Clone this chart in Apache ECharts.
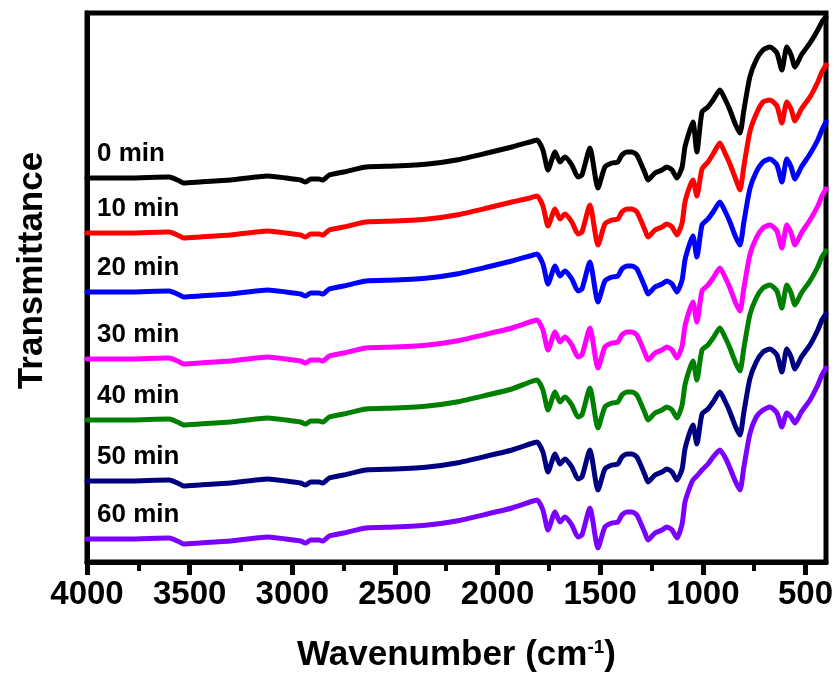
<!DOCTYPE html>
<html>
<head>
<meta charset="utf-8">
<script src="https://cdn.jsdelivr.net/npm/echarts@6/dist/echarts.min.js"></script>
<style>
  html, body { margin: 0; padding: 0; background: #fff; }
  #ftir { width: 836px; height: 680px; }
</style>
</head>
<body>
<div id="ftir"></div>
<script>
// wavenumbers (cm-1) shared by all spectra
var wavenumbers = [4000, 3800, 3600, 3550, 3530, 3450, 3300, 3120, 3030, 2960, 2935, 2910, 2870, 2850, 2820, 2750, 2640, 2500, 2340, 2200, 2050, 1930, 1842, 1808, 1779, 1754, 1720, 1696, 1672, 1638, 1608, 1589, 1550, 1511, 1477, 1443, 1414, 1394, 1370, 1345, 1321, 1282, 1267, 1233, 1199, 1175, 1150, 1126, 1101, 1087, 1063, 1048, 1029, 1004, 975, 950, 917, 890, 868, 840, 819, 800, 771, 740, 707, 673, 639, 615, 591, 570, 551, 520, 478, 440, 420, 400];

// transmittance (a.u., stacked with offsets as in the figure)
var t0 = [384, 384, 385, 381, 379, 380, 382, 386, 384, 382, 380, 383, 383, 382, 387, 390, 395, 396, 398, 402, 409, 415, 420, 422, 412, 392, 410, 400, 405, 397, 385, 387, 414, 374, 395, 399, 400, 407, 410, 410, 407, 389, 382, 389, 392, 395, 392, 384, 395, 415, 432, 440, 410, 450, 455, 462, 472, 462, 452, 437, 429, 452, 485, 502, 512, 515, 509, 492, 515, 507, 495, 507, 519, 532, 540, 545];
var t10 = [329, 329, 330, 326, 324, 325, 327, 331, 329, 327, 325, 328, 328, 327, 332, 335, 340, 341, 343, 347, 354, 360, 364, 366, 356, 336, 353, 343, 348, 340, 328, 330, 357, 317, 338, 342, 343, 350, 353, 353, 350, 332, 325, 332, 335, 338, 335, 327, 339, 360, 376, 382, 366, 393, 400, 408, 419, 408, 398, 383, 372, 396, 430, 448, 460, 462, 456, 439, 460, 453, 441, 453, 465, 480, 490, 497];
var t20 = [270, 270, 271, 267, 265, 266, 268, 272, 270, 268, 266, 269, 269, 268, 273, 276, 281, 282, 284, 288, 295, 301, 306, 308, 298, 278, 296, 286, 291, 283, 271, 273, 300, 260, 281, 285, 286, 293, 296, 296, 293, 275, 268, 275, 278, 281, 278, 270, 282, 302, 319, 326, 305, 337, 343, 350, 360, 350, 340, 325, 317, 340, 373, 390, 400, 403, 397, 380, 403, 395, 383, 395, 408, 422, 432, 440];
var t30 = [203, 203, 204, 200, 198, 199, 201, 205, 203, 201, 199, 202, 202, 201, 206, 209, 214, 215, 217, 221, 228, 234, 240, 242, 232, 212, 230, 220, 225, 217, 205, 207, 234, 194, 215, 219, 220, 227, 230, 230, 227, 209, 202, 209, 212, 215, 212, 204, 216, 236, 253, 260, 240, 271, 277, 284, 294, 284, 274, 259, 251, 274, 307, 324, 334, 337, 331, 314, 337, 329, 317, 329, 342, 356, 366, 373];
var t40 = [142, 142, 143, 139, 137, 138, 140, 144, 142, 140, 138, 141, 141, 140, 145, 148, 153, 154, 156, 160, 167, 173, 180, 182, 172, 152, 170, 160, 165, 157, 145, 147, 174, 134, 155, 159, 160, 167, 170, 170, 167, 149, 142, 149, 152, 155, 152, 144, 157, 177, 194, 201, 182, 212, 217, 224, 234, 224, 214, 199, 191, 214, 247, 264, 274, 277, 271, 254, 277, 269, 257, 269, 281, 295, 305, 311];
var t50 = [81, 81, 82, 78, 76, 77, 79, 83, 81, 79, 77, 80, 80, 79, 84, 87, 92, 93, 95, 99, 106, 112, 118, 120, 110, 90, 108, 98, 103, 95, 83, 85, 112, 72, 93, 97, 98, 105, 108, 108, 105, 87, 80, 87, 90, 93, 90, 82, 93, 113, 130, 137, 118, 148, 153, 160, 170, 160, 150, 135, 127, 150, 183, 200, 210, 213, 207, 190, 213, 205, 193, 205, 217, 232, 242, 248];
var t60 = [23, 23, 24, 20, 18, 19, 21, 25, 23, 21, 19, 22, 22, 21, 26, 29, 34, 35, 37, 41, 48, 54, 60, 62, 52, 32, 50, 40, 45, 37, 25, 27, 54, 14, 35, 39, 40, 47, 50, 50, 47, 29, 22, 29, 32, 35, 32, 24, 38, 60, 75, 82, 86, 92, 98, 105, 112, 104, 94, 80, 72, 95, 128, 145, 152, 155, 149, 135, 149, 145, 139, 150, 162, 177, 187, 194];

var seriesNames = ['0 min', '10 min', '20 min', '30 min', '40 min', '50 min', '60 min'];
var seriesColors = ['#000000', '#ff0000', '#0000ff', '#ff00ff', '#008000', '#000080', '#7a00ff'];
var seriesValues = [t0, t10, t20, t30, t40, t50, t60];

var majorTicks = [4000, 3500, 3000, 2500, 2000, 1500, 1000, 500];
var minorTicks = [3750, 3250, 2750, 2250, 1750, 1250, 750];

var font = 'Liberation Sans, Arial, sans-serif';

var series = seriesValues.map(function (vals, k) {
    return {
        name: seriesNames[k],
        type: 'line',
        xAxisIndex: 0,
        showSymbol: false,
        smooth: 0.2,
        data: wavenumbers.map(function (w, i) { return [w, vals[i]]; }),
        lineStyle: { color: seriesColors[k], width: 5, cap: 'round', join: 'round' },
        itemStyle: { color: seriesColors[k] },
        markPoint: {
            symbol: 'circle',
            symbolSize: 0,
            silent: true,
            data: [{
                coord: [wavenumbers[0], vals[0]],
                label: {
                    show: true,
                    formatter: seriesNames[k],
                    position: [10, -24],
                    align: 'left',
                    verticalAlign: 'middle',
                    color: '#000',
                    fontFamily: font,
                    fontWeight: 'bold',
                    fontSize: 26
                }
            }]
        }
    };
});

var chart = echarts.init(document.getElementById('ftir'));
chart.setOption({
    animation: false,
    grid: {
        left: 87,
        right: 10,
        top: 13,
        bottom: 118,
        outerBoundsMode: 'none',
        containLabel: false,
        show: true,
        borderColor: '#000',
        borderWidth: 5
    },
    xAxis: [{
        type: 'value',
        inverse: true,
        min: 400,
        max: 4000,
        position: 'bottom',
        name: 'Wavenumber (cm{sup|-1})',
        nameLocation: 'middle',
        nameGap: 76,
        nameTextStyle: {
            color: '#000',
            fontFamily: font,
            fontWeight: 'bold',
            fontSize: 35,
            rich: {
                sup: { fontSize: 19, fontWeight: 'bold', fontFamily: font, verticalAlign: 'top', padding: [0, 0, 16, 0] }
            }
        },
        axisLine: { show: true, lineStyle: { color: '#000', width: 5 } },
        axisTick: { show: true, inside: false, length: 13, customValues: majorTicks, lineStyle: { color: '#000', width: 5 } },
        axisLabel: {
            customValues: majorTicks,
            margin: 16,
            color: '#000',
            fontFamily: font,
            fontWeight: 'bold',
            fontSize: 33,
            formatter: function (v) { return String(v); }
        },
        splitLine: { show: false }
    }, {
        type: 'value',
        inverse: true,
        min: 400,
        max: 4000,
        position: 'bottom',
        axisLine: { show: false },
        axisTick: { show: true, inside: false, length: 9, customValues: minorTicks, lineStyle: { color: '#000', width: 4 } },
        axisLabel: { show: false },
        splitLine: { show: false }
    }],
    yAxis: {
        type: 'value',
        min: 0,
        max: 549,
        name: 'Transmittance',
        nameLocation: 'middle',
        nameGap: 37,
        nameTextStyle: {
            color: '#000',
            fontFamily: font,
            fontWeight: 'bold',
            fontSize: 35,
            padding: [0, 0, 0, 34]
        },
        axisLine: { show: true, lineStyle: { color: '#000', width: 5 } },
        axisTick: { show: false },
        axisLabel: { show: false },
        splitLine: { show: false }
    },
    series: series
});
</script>
</body>
</html>
